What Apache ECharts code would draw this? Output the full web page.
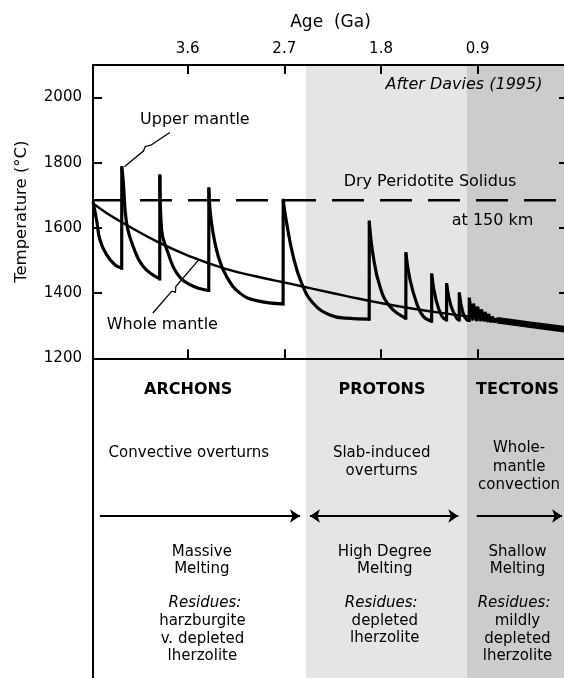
<!DOCTYPE html>
<html><head><meta charset="utf-8">
<script src="https://cdn.jsdelivr.net/npm/echarts@6/dist/echarts.min.js"></script>
<style>html,body{margin:0;padding:0;background:#fff}#c{width:564px;height:678px}</style>
</head><body><div id="c"></div>
<script>
// ---------- data ----------
const ageTicks = [3.6, 2.7, 1.8, 0.9];
const tempTicks = [1200, 1400, 1600, 1800, 2000];
// Upper mantle temperature (age Ga, T °C): one array per overturn cycle
const upperSeg1 = [[4.479,1680],[4.444,1619],[4.416,1564],[4.354,1518],[4.277,1487],[4.213,1477]];
const upperSeg2 = [[4.212,1785],[4.200,1749],[4.168,1616],[4.106,1543],[4.013,1482],[3.859,1444]];
const upperSeg3 = [[3.858,1760],[3.842,1595],[3.781,1523],[3.702,1462],[3.579,1426],[3.403,1408]];
const upperSeg4 = [[3.402,1720],[3.377,1615],[3.315,1513],[3.237,1451],[3.113,1400],[2.958,1377],[2.711,1367]];
const upperSeg5 = [[2.710,1685],[2.678,1615],[2.617,1513],[2.539,1431],[2.431,1369],[2.275,1333],[2.120,1323],[1.910,1320]];
const upperSeg6 = [[1.909,1618],[1.872,1513],[1.810,1420],[1.717,1359],[1.569,1323]];
const upperSeg7 = [[1.568,1521],[1.530,1441],[1.468,1369],[1.406,1328],[1.329,1314]];
const upperSeg8 = [[1.328,1456],[1.288,1379],[1.232,1328],[1.190,1318]];
const upperSeg9 = [[1.189,1426],[1.149,1361],[1.096,1323],[1.072,1318]];
const upperSeg10 = [[1.071,1398],[1.037,1339],[1.000,1318],[0.979,1316]];
// rapid small overturns after ~1 Ga
const upperTail = [
 [0.978,1382],[0.944,1316],[0.939,1368],[0.907,1314],[0.902,1359],[0.871,1314],[0.866,1350],
 [0.837,1313],[0.832,1342],[0.804,1311],[0.799,1336],[0.772,1310],[0.767,1328],[0.739,1310],
 [0.734,1322],[0.706,1312]
];
// converged high-frequency part of the upper-mantle curve (thick band)
const upperMantleBand = [[0.72,1317],[0.41,1303],[0.06,1288]];
// Whole mantle temperature (age Ga, T °C)
const wholeMantle = [
 [4.479,1675],[4.354,1646],[4.200,1615],[3.889,1559],[3.579,1513],[3.269,1477],[2.958,1451],
 [2.648,1429],[2.431,1413],[2.120,1391],[1.810,1370],[1.500,1352],[1.189,1337],[0.879,1324],
 [0.506,1307],[0.06,1288]
];
const solidusT = 1685;
// eras
const eraNames = ['ARCHONS', 'PROTONS', 'TECTONS'];
const eraBounds = [[4.5, 2.5], [2.5, 1.0], [1.0, 0.0]];
const processes = ['Convective overturns', 'Slab-induced\noverturns', 'Whole-\nmantle\nconvection'];
const meltings = ['Massive\nMelting', 'High Degree\nMelting', 'Shallow\nMelting'];
const residueHeader = 'Residues:';
const residues = ['harzburgite\nv. depleted\nlherzolite', 'depleted\nlherzolite', 'mildly\ndepleted\nlherzolite'];
const arrowSpans = [[4.416, 2.554], [2.461, 1.081], [0.909, 0.115]];
const arrowDouble = [false, true, false];
const annotations = ['Upper mantle', 'Whole mantle', 'Dry Peridotite Solidus', 'at 150 km', 'After Davies (1995)'];

// ---------- layout (not data) ----------
const FONT = 'DejaVu Sans';
const X_MIN = 0.06, X_MAX = 4.48;
const annPos = [[3.532,1931],[3.835,1302],[1.344,1740],[0.762,1622],[1.028,2039]];
const upperLeader = [[3.765,1893],[3.942,1854],[3.993,1850],[4.011,1836],[4.188,1788]];
const wholeLeader = [[3.923,1339],[3.746,1406],[3.714,1403],[3.709,1420],[3.495,1503]];
const rowTitle = 31.7, rowArrow = 157.7, rowMelt = 202.2, rowRes = 245;
const rowProc = [94.4, 103.6, 108.5];
const rowResList = [280.5, 271.7, 280.5];
const xTitle = [3.594, 1.791, 0.529];
const xProc = [3.588, 1.794, 0.515];
const xMelt = [3.467, 1.765, 0.53];
const xResH = [3.439, 1.798, 0.562];
const xResL = [3.462, 1.765, 0.53];

const black = '#000';
const axisLine = {show: true, lineStyle: {color: black, width: 2}};
function tick(vals) { return {show: true, inside: true, length: 9, customValues: vals, lineStyle: {color: black, width: 2}}; }
const txt = {color: black, fontFamily: FONT};

const shade = ['#ffffff', '#e5e5e5', '#cccccc'];
function shadeAreas() {
  const out = [];
  for (let i = 1; i < eraBounds.length; i++) {
    out.push([{xAxis: Math.min(eraBounds[i][0], X_MAX), itemStyle: {color: shade[i]}},
              {xAxis: Math.max(eraBounds[i][1], X_MIN)}]);
  }
  return out;
}

function lbl(value, text, extra) {
  return {value: value, name: text,
    label: Object.assign({show: true, position: 'inside', formatter: text, color: black, opacity: 1,
      textBorderWidth: 0, textShadowBlur: 0, fontFamily: FONT, fontSize: 15}, extra || {})};
}

const lowerLabels = [];
eraNames.forEach((n, i) => lowerLabels.push(lbl([xTitle[i], rowTitle], n, {fontWeight: 'bold', fontSize: 16})));
processes.forEach((n, i) => lowerLabels.push(lbl([xProc[i], rowProc[i]], n, {lineHeight: 18.5})));
meltings.forEach((n, i) => lowerLabels.push(lbl([xMelt[i], rowMelt], n, {lineHeight: 17.6})));
xResH.forEach((x) => lowerLabels.push(lbl([x, rowRes], residueHeader, {fontStyle: 'italic'})));
residues.forEach((n, i) => lowerLabels.push(lbl([xResL[i], rowResList[i]], n, {lineHeight: 17.2})));

const upperLabels = annotations.map((n, i) => lbl(annPos[i], n,
  {fontSize: 16, fontStyle: n.indexOf('After') === 0 ? 'italic' : 'normal'}));

const upperSegs = [upperSeg1, upperSeg2, upperSeg3, upperSeg4, upperSeg5, upperSeg6, upperSeg7, upperSeg8, upperSeg9, upperSeg10, upperTail];
// vertical jumps joining each cycle's end to the next cycle's start
const jumps = [];
for (let i = 0; i < upperSegs.length - 1; i++) {
  jumps.push(upperSegs[i][upperSegs[i].length - 1], upperSegs[i + 1][0], [null, null]);
}
const upperStyle = {color: black, width: 3.2};
const upperSeries = upperSegs.map((seg, i) => ({
  type: 'line', name: 'Upper mantle', xAxisIndex: 0, yAxisIndex: 0, z: 5, data: seg, symbol: 'none',
  smooth: i < upperSegs.length - 1 ? 0.45 : false, lineStyle: upperStyle
}));

const option = {
  animation: false,
  backgroundColor: '#fff',
  grid: [
    {left: 93, right: -4, top: 65, height: 293.3, outerBoundsMode: 'none', containLabel: false},
    {left: 93, right: -4, top: 358.3, height: 340, outerBoundsMode: 'none', containLabel: false}
  ],
  xAxis: [
    {gridIndex: 0, type: 'value', position: 'top', min: X_MIN, max: X_MAX, inverse: true, z: 10,
     splitLine: {show: false}, axisLine: axisLine, axisTick: tick(ageTicks),
     axisLabel: Object.assign({customValues: ageTicks, formatter: v => v.toFixed(1), fontSize: 15, margin: 8}, txt),
     name: 'Age  (Ga)', nameLocation: 'middle', nameGap: 34,
     nameTextStyle: Object.assign({fontSize: 17}, txt)},
    {gridIndex: 0, type: 'value', position: 'bottom', min: X_MIN, max: X_MAX, inverse: true, z: 10,
     splitLine: {show: false}, axisLine: axisLine, axisTick: tick(ageTicks), axisLabel: {show: false}},
    {gridIndex: 1, type: 'value', min: X_MIN, max: X_MAX, inverse: true, show: false}
  ],
  yAxis: [
    {gridIndex: 0, type: 'value', position: 'left', min: 1200, max: 2100, z: 10,
     splitLine: {show: false}, axisLine: axisLine, axisTick: tick(tempTicks),
     axisLabel: Object.assign({customValues: tempTicks, formatter: v => String(v), fontSize: 15, margin: 11}, txt),
     name: 'Temperature (°C)', nameLocation: 'middle', nameGap: 63, nameRotate: 90,
     nameTextStyle: Object.assign({fontSize: 16.5}, txt)},
    {gridIndex: 0, type: 'value', position: 'right', min: 1200, max: 2100, z: 10,
     splitLine: {show: false}, axisLine: axisLine, axisTick: tick(tempTicks), axisLabel: {show: false}},
    {gridIndex: 1, type: 'value', position: 'left', min: 0, max: 340, inverse: true, z: 10,
     splitLine: {show: false}, axisLine: axisLine, axisTick: {show: false}, axisLabel: {show: false}}
  ],
  series: [
    {type: 'line', xAxisIndex: 0, yAxisIndex: 0, data: [], z: 0, silent: true,
     markArea: {silent: true, data: shadeAreas()}},
    {type: 'line', xAxisIndex: 2, yAxisIndex: 2, data: [], z: 0, silent: true,
     markArea: {silent: true, data: shadeAreas()}},
    {type: 'line', name: 'solidus', xAxisIndex: 0, yAxisIndex: 0, z: 3,
     data: [[X_MAX, solidusT], [X_MIN, solidusT]], symbol: 'none',
     lineStyle: {color: black, width: 2.5, type: [32, 16], dashOffset: 1}},
    {type: 'line', name: 'Whole mantle', xAxisIndex: 0, yAxisIndex: 0, z: 4,
     data: wholeMantle, symbol: 'none', smooth: 0.5,
     lineStyle: {color: black, width: 2.4}},
    ...upperSeries,
    {type: 'line', name: 'Upper mantle jumps', xAxisIndex: 0, yAxisIndex: 0, z: 5,
     data: jumps, symbol: 'none', connectNulls: false,
     lineStyle: {color: black, width: 3.2, cap: 'square'}},
    {type: 'line', name: 'Upper mantle band', xAxisIndex: 0, yAxisIndex: 0, z: 5,
     data: upperMantleBand, symbol: 'none',
     lineStyle: {color: black, width: 6.5}},
    {type: 'lines', coordinateSystem: 'cartesian2d', xAxisIndex: 0, yAxisIndex: 0, polyline: true, z: 6,
     symbol: ['none', 'arrow'], symbolSize: 7,
     lineStyle: {color: black, width: 1.3, opacity: 1},
     data: [{coords: upperLeader}, {coords: wholeLeader}]},
    {type: 'lines', coordinateSystem: 'cartesian2d', xAxisIndex: 2, yAxisIndex: 2, z: 6,
     symbol: ['none', 'arrow'], symbolSize: 10,
     lineStyle: {color: black, width: 2, opacity: 1},
     data: arrowSpans.filter((s, i) => !arrowDouble[i]).map(s => ({coords: [[s[0], rowArrow], [s[1], rowArrow]]}))},
    {type: 'lines', coordinateSystem: 'cartesian2d', xAxisIndex: 2, yAxisIndex: 2, z: 6,
     symbol: ['arrow', 'arrow'], symbolSize: 10,
     lineStyle: {color: black, width: 2, opacity: 1},
     data: arrowSpans.filter((s, i) => arrowDouble[i]).map(s => ({coords: [[s[0], rowArrow], [s[1], rowArrow]]}))},
    {type: 'scatter', xAxisIndex: 0, yAxisIndex: 0, z: 8, symbolSize: 1, silent: true,
     itemStyle: {color: 'rgba(0,0,0,0)'}, data: upperLabels},
    {type: 'scatter', xAxisIndex: 2, yAxisIndex: 2, z: 8, symbolSize: 1, silent: true,
     itemStyle: {color: 'rgba(0,0,0,0)'}, data: lowerLabels}
  ]
};
const chart = echarts.init(document.getElementById('c'), null, {renderer: 'canvas'});
chart.setOption(option);
</script></body></html>
